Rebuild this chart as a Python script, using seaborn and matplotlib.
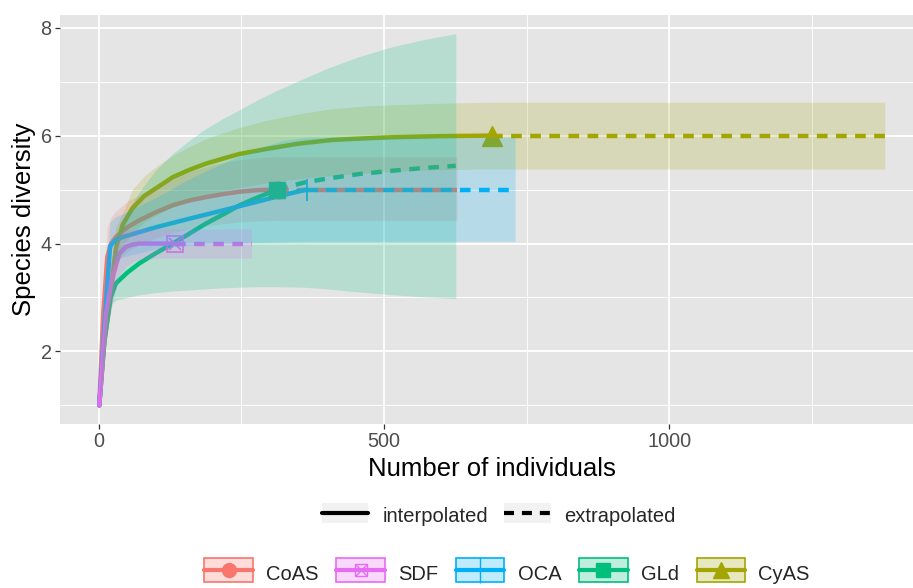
import matplotlib
matplotlib.use("Agg")
import numpy as np
import pandas as pd
import matplotlib.pyplot as plt
import seaborn as sns
from matplotlib.lines import Line2D
from matplotlib.patches import Patch, Rectangle
from matplotlib.legend_handler import HandlerTuple, HandlerPatch
from matplotlib.colors import to_rgba
from matplotlib.ticker import FixedLocator

# ---------------- data ----------------
legend_order = ["CoAS", "SDF", "OCA", "GLd", "CyAS"]
draw_order = ["CoAS", "CyAS", "GLd", "OCA", "SDF"]
site_colors = {"CoAS": "#F8766D", "CyAS": "#A3A500", "GLd": "#00BF7D",
               "OCA": "#00B0F6", "SDF": "#E76BF3"}

# CoAS
coas_int_n = [1, 8, 15, 22, 30, 50, 71, 100, 130, 160, 188, 220, 247, 280, 314]
coas_int_S = [1, 2.7, 3.75, 4.0, 4.12, 4.3, 4.43, 4.58, 4.71, 4.8, 4.86, 4.92, 4.96, 4.99, 5.0]
coas_int_lo = [1, 2.3, 3.2, 3.5, 3.65, 3.85, 3.98, 4.1, 4.2, 4.28, 4.33, 4.37, 4.4, 4.42, 4.43]
coas_int_hi = [1, 3.2, 4.3, 4.5, 4.6, 4.78, 4.9, 5.06, 5.22, 5.33, 5.42, 5.5, 5.55, 5.59, 5.61]
coas_ext_n = [314, 400, 500, 628]
coas_ext_S = [5.0, 5.0, 5.0, 5.0]
coas_ext_lo = [4.43, 4.43, 4.43, 4.43]
coas_ext_hi = [5.61, 5.61, 5.61, 5.61]

# SDF
sdf_int_n = [1, 13, 24, 36, 48, 60, 71, 100, 134]
sdf_int_S = [1, 2.7, 3.36, 3.81, 3.94, 3.98, 4.0, 4.0, 4.0]
sdf_int_lo = [1, 2.2, 2.9, 3.4, 3.58, 3.66, 3.7, 3.73, 3.73]
sdf_int_hi = [1, 3.2, 3.8, 4.2, 4.26, 4.27, 4.27, 4.27, 4.27]
sdf_ext_n = [134, 200, 268]
sdf_ext_S = [4.0, 4.0, 4.0]
sdf_ext_lo = [3.73, 3.73, 3.73]
sdf_ext_hi = [4.27, 4.27, 4.27]

# OCA
oca_int_n = [1, 10, 20, 30, 42, 100, 159, 220, 276, 320, 365]
oca_int_S = [1, 2.5, 3.95, 4.07, 4.12, 4.3, 4.46, 4.62, 4.77, 4.89, 5.0]
oca_int_lo = [1, 2.1, 3.5, 3.68, 3.75, 3.9, 3.97, 4.0, 4.02, 4.03, 4.04]
oca_int_hi = [1, 3.1, 4.4, 4.5, 4.55, 4.85, 5.2, 5.5, 5.75, 5.9, 5.97]
oca_ext_n = [365, 500, 730]
oca_ext_S = [5.0, 5.0, 5.0]
oca_ext_lo = [4.04, 4.04, 4.04]
oca_ext_hi = [5.97, 5.97, 5.97]

# GLd
gld_int_n = [1, 10, 21, 30, 50, 71, 100, 130, 160, 188, 220, 247, 280, 313]
gld_int_S = [1, 2.2, 3.0, 3.26, 3.46, 3.63, 3.82, 4.0, 4.19, 4.37, 4.55, 4.71, 4.86, 5.0]
gld_int_lo = [1, 1.9, 2.85, 2.95, 3.0, 3.05, 3.09, 3.12, 3.14, 3.16, 3.18, 3.19, 3.2, 3.2]
gld_int_hi = [1, 2.5, 3.6, 4.1, 4.6, 4.95, 5.36, 5.67, 5.92, 6.13, 6.33, 6.48, 6.67, 6.84]
gld_ext_n = [313, 360, 399, 458, 516, 570, 626]
gld_ext_S = [5.0, 5.13, 5.2, 5.29, 5.35, 5.4, 5.44]
gld_ext_lo = [3.2, 3.19, 3.16, 3.1, 3.05, 3.01, 2.98]
gld_ext_hi = [6.84, 7.06, 7.24, 7.47, 7.65, 7.78, 7.89]

# CyAS
cyas_int_n = [1, 10, 20, 30, 42, 59, 80, 100, 130, 160, 188, 220, 247, 293, 350, 410, 470, 516, 600, 689]
cyas_int_S = [1, 2.2, 3.0, 3.9, 4.35, 4.65, 4.88, 5.02, 5.23, 5.37, 5.48, 5.58, 5.66, 5.75, 5.85, 5.92, 5.95, 5.97, 5.99, 6.0]
cyas_int_lo = [1, 1.9, 2.7, 3.5, 3.95, 4.2, 4.4, 4.52, 4.68, 4.8, 4.9, 4.98, 5.04, 5.12, 5.2, 5.26, 5.31, 5.34, 5.37, 5.38]
cyas_int_hi = [1, 2.5, 3.4, 4.3, 4.56, 5.0, 5.25, 5.42, 5.63, 5.8, 5.94, 6.06, 6.15, 6.28, 6.4, 6.5, 6.55, 6.57, 6.6, 6.62]
cyas_ext_n = [689, 900, 1100, 1378]
cyas_ext_S = [6.0, 6.0, 6.0, 6.0]
cyas_ext_lo = [5.38, 5.38, 5.38, 5.38]
cyas_ext_hi = [6.62, 6.62, 6.62, 6.62]

series = {
    "CoAS": (coas_int_n, coas_int_S, coas_int_lo, coas_int_hi, coas_ext_n, coas_ext_S, coas_ext_lo, coas_ext_hi),
    "SDF": (sdf_int_n, sdf_int_S, sdf_int_lo, sdf_int_hi, sdf_ext_n, sdf_ext_S, sdf_ext_lo, sdf_ext_hi),
    "OCA": (oca_int_n, oca_int_S, oca_int_lo, oca_int_hi, oca_ext_n, oca_ext_S, oca_ext_lo, oca_ext_hi),
    "GLd": (gld_int_n, gld_int_S, gld_int_lo, gld_int_hi, gld_ext_n, gld_ext_S, gld_ext_lo, gld_ext_hi),
    "CyAS": (cyas_int_n, cyas_int_S, cyas_int_lo, cyas_int_hi, cyas_ext_n, cyas_ext_S, cyas_ext_lo, cyas_ext_hi),
}

rows = []
for site, (i_n, i_S, i_lo, i_hi, e_n, e_S, e_lo, e_hi) in series.items():
    for a, b, c, d in zip(i_n, i_S, i_lo, i_hi):
        rows.append((site, "interpolated", a, b, c, d))
    for a, b, c, d in zip(e_n, e_S, e_lo, e_hi):
        rows.append((site, "extrapolated", a, b, c, d))
df = pd.DataFrame(rows, columns=["site", "method", "m", "qD", "lcl", "ucl"])

# ---------------- style ----------------
sns.set_theme(style="darkgrid", rc={
    "axes.facecolor": "#E5E5E5",
    "grid.color": "white",
    "axes.edgecolor": "none",
})
plt.rcParams["font.family"] = ["Liberation Sans", "DejaVu Sans"]

W, H = 913, 588
fig = plt.figure(figsize=(W / 100, H / 100), dpi=100)
fig.patch.set_facecolor("white")
ax = fig.add_axes([60 / W, 1 - 424 / H, (924 - 60) / W, (424 - 15) / H])
ax.set_facecolor("#E5E5E5")

dash = (0, (2.4, 1.9))
for site in draw_order:
    c = site_colors[site]
    sub_i = df[(df.site == site) & (df.method == "interpolated")]
    sub_e = df[(df.site == site) & (df.method == "extrapolated")]
    sns.lineplot(data=sub_i, x="m", y="qD", color=c, lw=3.2, estimator=None,
                 sort=False, ax=ax, legend=False, zorder=3)
    sns.lineplot(data=sub_e, x="m", y="qD", color=c, lw=3.2, estimator=None,
                 sort=False, ax=ax, legend=False, zorder=3)
    ax.lines[-1].set_linestyle(dash)

# observed points (last interpolated sample)
obs = df[df.method == "interpolated"].groupby("site", sort=False).tail(1).set_index("site")
marker_spec = {"CoAS": dict(marker="o", ms=12),
               "CyAS": dict(marker="^", ms=14),
               "GLd": dict(marker="s", ms=12),
               "OCA": dict(marker="+", ms=16, mew=1.3),
               "SDF": dict(marker="s", ms=12, mfc="none", mew=1.2)}
for site in draw_order:
    c = site_colors[site]
    ax.plot([obs.loc[site, "m"]], [obs.loc[site, "qD"]], ls="none", color=c,
            zorder=4, **marker_spec[site])
    if site == "SDF":
        ax.plot([obs.loc[site, "m"]], [obs.loc[site, "qD"]], ls="none", color=c,
                marker="x", ms=9, mew=1.2, zorder=4)

# ribbons on top (alpha 0.2)
for site in draw_order:
    c = site_colors[site]
    sub = df[df.site == site].drop_duplicates(subset=["m"]).sort_values("m")
    ax.fill_between(sub["m"], sub["lcl"], sub["ucl"], color=c, alpha=0.2, lw=0, zorder=5)

# scales
xmin, xmax = df["m"].min(), df["m"].max()
ymin, ymax = df["lcl"].min(), df["ucl"].max()
xpad, ypad = 0.05 * (xmax - xmin), 0.05 * (ymax - ymin)
ax.set_xlim(xmin - xpad, xmax + xpad)
ax.set_ylim(ymin - ypad, ymax + ypad)
ax.xaxis.set_major_locator(FixedLocator([0, 500, 1000]))
ax.xaxis.set_minor_locator(FixedLocator([250, 750, 1250]))
ax.yaxis.set_major_locator(FixedLocator([2, 4, 6, 8]))
ax.yaxis.set_minor_locator(FixedLocator([1, 3, 5, 7]))
ax.grid(which="major", color="white", lw=1.3)
ax.grid(which="minor", color="white", lw=0.65)
ax.set_axisbelow(True)
ax.tick_params(which="major", length=3.5, width=0.9, color="#333333",
               labelsize=14.3, labelcolor="#4D4D4D", pad=2.5,
               bottom=True, left=True)
ax.tick_params(which="minor", length=0, bottom=False, left=False)
for s in ax.spines.values():
    s.set_visible(False)
ax.set_xlabel("Number of individuals", fontsize=18.5, color="black", labelpad=4)
ax.set_ylabel("Species diversity", fontsize=18.5, color="black", labelpad=3.5)

# ---------------- legends ----------------
def centered_patch(legend, orig_handle, xdescent, ydescent, width, height, fontsize):
    # centre the key box on the line drawn by HandlerLine2D
    return Rectangle((-xdescent, -ydescent / 2.0), width, height)

key_bg = "#F2F2F2"
overlay = {tuple: HandlerTuple(ndivide=1, pad=0),
           Patch: HandlerPatch(patch_func=centered_patch)}
lt_handles = [
    (Patch(fc=key_bg, ec="none"), Line2D([], [], color="black", lw=3.0)),
    (Patch(fc=key_bg, ec="none"), Line2D([], [], color="black", lw=3.0, ls=dash)),
]
fig.legend(lt_handles, ["interpolated", "extrapolated"], handler_map=overlay,
           loc="center", bbox_to_anchor=(499 / W, 1 - 515 / H), ncol=2,
           frameon=False, fontsize=14.5, handlelength=2.3, handleheight=1.2,
           handletextpad=0.7, columnspacing=0.8, borderpad=0.2)

leg_marker = {"CoAS": dict(marker="o", ms=10),
              "SDF": dict(marker="s", ms=9, mfc="none", mew=1.0),
              "OCA": dict(marker="|", ms=19, mew=1.0),
              "GLd": dict(marker="s", ms=10),
              "CyAS": dict(marker="^", ms=12)}
col_handles = []
for site in legend_order:
    c = site_colors[site]
    parts = [Patch(fc=to_rgba(c, 0.25), ec=c, lw=1.2),
             Line2D([], [], color=c, lw=3.0, **leg_marker[site])]
    if site == "SDF":
        parts.append(Line2D([], [], color=c, lw=0, marker="x", ms=8, mew=1.0))
    col_handles.append(tuple(parts))
fig.legend(col_handles, legend_order, handler_map=overlay,
           loc="center", bbox_to_anchor=(507 / W, 1 - 573 / H), ncol=5,
           frameon=False, fontsize=14.5, handlelength=2.4, handleheight=1.45,
           handletextpad=0.65, columnspacing=0.9, borderpad=0.15)

fig.savefig("out.png", dpi=100)
